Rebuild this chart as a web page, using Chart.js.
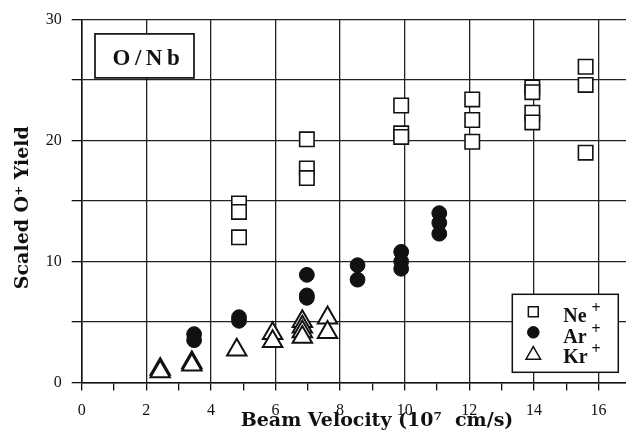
<!DOCTYPE html>
<html>
<head>
<meta charset="utf-8">
<title>O/Nb scaled yield</title>
<script src="https://cdn.jsdelivr.net/npm/chart.js@4.4.0/dist/chart.umd.min.js"></script>
<style>
    html, body { margin: 0; padding: 0; background: #fff; }
    #wrap { width: 626px; height: 437px; }
</style>
</head>
<body>
<div id="wrap"><canvas id="yieldChart" width="626" height="437"></canvas></div>
<script>
// Data (beam velocity in 10^7 cm/s, scaled O+ yield)
const neVelocity = [4.87, 4.87, 4.87, 6.97, 6.97, 6.97, 9.89, 9.89, 9.89, 12.09, 12.09, 12.09, 13.95, 13.95, 13.95, 13.95, 15.6, 15.6, 15.6];
const neYield    = [14.8, 14.1, 12.0, 20.1, 17.7, 16.9, 22.9, 20.6, 20.3, 23.4, 21.7, 19.9, 24.4, 24.0, 22.3, 21.5, 26.1, 24.6, 19.0];

const arVelocity = [3.48, 3.48, 4.87, 4.87, 6.97, 6.97, 6.97, 8.54, 8.54, 9.89, 9.89, 9.89, 11.07, 11.07, 11.07];
const arYield    = [4.0, 3.5, 5.4, 5.1, 8.9, 7.2, 7.0, 9.7, 8.5, 10.8, 10.0, 9.4, 14.0, 13.2, 12.3];

const krVelocity = [2.43, 2.43, 3.41, 3.41, 4.80, 5.91, 5.91, 6.83, 6.83, 6.83, 6.83, 7.61, 7.61];
const krYield    = [1.1, 0.9, 1.65, 1.45, 2.7, 4.05, 3.4, 5.05, 4.6, 4.2, 3.75, 5.35, 4.15];

const seriesNames = ['Ne', 'Ar', 'Kr'];
const xTickLabels = [0, 2, 4, 6, 8, 10, 12, 14, 16];
const yTickLabels = [0, 10, 20, 30];

const ink = '#111';
const gridInk = '#222';
const serif = "'Liberation Serif', 'Times New Roman', serif";
const wideSerif = "'DejaVu Serif', 'Liberation Serif', serif";

function toPoints(xs, ys) {
    return xs.map((x, i) => ({ x: x, y: ys[i] }));
}

// Label box + legend drawn on top of the grid
const annotations = {
    id: 'annotations',
    afterDraw(chart) {
        const ctx = chart.ctx;
        const area = chart.chartArea;
        ctx.save();

        // "O/Nb" box, upper left
        const bx = area.left + 13.3, by = area.top + 14.3;
        ctx.fillStyle = '#fff';
        ctx.fillRect(bx, by, 99, 44);
        ctx.strokeStyle = ink;
        ctx.lineWidth = 1.7;
        ctx.strokeRect(bx, by, 99, 44);
        ctx.fillStyle = ink;
        ctx.font = 'bold 23px ' + serif;
        ctx.textBaseline = 'alphabetic';
        ctx.textAlign = 'left';
        if ('letterSpacing' in ctx) ctx.letterSpacing = '4.5px';
        ctx.fillText('O/Nb', bx + 17.5, by + 30.7);
        if ('letterSpacing' in ctx) ctx.letterSpacing = '0px';

        // legend, lower right
        const lx = 512.3, ly = 294.3, lw = 106, lh = 78;
        ctx.fillStyle = '#fff';
        ctx.fillRect(lx, ly, lw, lh);
        ctx.strokeStyle = ink;
        ctx.lineWidth = 1.5;
        ctx.strokeRect(lx, ly, lw, lh);

        const markerY = [311.7, 332.3, 355.0];
        const textY = [322.3, 343.3, 362.7];
        const markerR = [7, 5.8, 8.4];
        chart.data.datasets.forEach((ds, i) => {
            ctx.fillStyle = ds.backgroundColor;
            ctx.strokeStyle = ds.borderColor;
            ctx.lineWidth = i === 1 ? 1 : 1.5;
            Chart.helpers.drawPoint(ctx, {
                pointStyle: ds.pointStyle,
                rotation: 0,
                radius: markerR[i],
                borderWidth: ctx.lineWidth
            }, 533.3, markerY[i]);

            ctx.fillStyle = ink;
            ctx.font = 'bold 20px ' + serif;
            ctx.fillText(seriesNames[i], 563.3, textY[i]);
            ctx.font = 'bold 16px ' + serif;
            ctx.fillText('+', 591.5, textY[i] - 9);
        });

        ctx.restore();
    }
};

const ctx = document.getElementById('yieldChart').getContext('2d');

new Chart(ctx, {
    type: 'scatter',
    data: {
        datasets: [
            {
                label: 'Ne+',
                data: toPoints(neVelocity, neYield),
                pointStyle: 'rect',
                pointRadius: 10.2,
                pointBorderWidth: 1.6,
                backgroundColor: '#fff',
                borderColor: ink
            },
            {
                label: 'Ar+',
                data: toPoints(arVelocity, arYield),
                pointStyle: 'circle',
                pointRadius: 7.4,
                pointBorderWidth: 1,
                backgroundColor: ink,
                borderColor: ink
            },
            {
                label: 'Kr+',
                data: toPoints(krVelocity, krYield),
                pointStyle: 'triangle',
                pointRadius: 11.2,
                pointBorderWidth: 2,
                backgroundColor: '#fff',
                borderColor: ink
            }
        ]
    },
    options: {
        responsive: false,
        devicePixelRatio: 1,
        animation: false,
        layout: {
            autoPadding: false,
            padding: { top: 19, right: 0, bottom: 0, left: 0 }
        },
        plugins: {
            legend: { display: false },
            tooltip: { enabled: false }
        },
        scales: {
            x: {
                type: 'linear',
                position: 'bottom',
                min: 0,
                max: 16.85,
                afterFit: scale => { scale.height = 54.5; },
                border: { display: true, color: ink, width: 1.5 },
                grid: {
                    color: c => (c.tick && c.tick.value % 2 === 0) ? gridInk : 'rgba(0,0,0,0)',
                    lineWidth: 1.3,
                    tickColor: ink,
                    tickLength: 8
                },
                ticks: {
                    stepSize: 1,
                    includeBounds: false,
                    autoSkip: false,
                    maxRotation: 0,
                    padding: 11,
                    color: ink,
                    font: { family: serif, size: 16 },
                    callback: v => xTickLabels.includes(v) ? String(v) : ''
                },
                title: {
                    display: true,
                    text: '       Beam Velocity (10\u2077  cm/s)',
                    color: ink,
                    font: { family: wideSerif, size: 19, weight: 'bold' },
                    padding: { top: 0, bottom: 5 }
                }
            },
            y: {
                type: 'linear',
                min: 0,
                max: 30,
                afterFit: scale => { scale.width = 81.7; },
                border: { display: true, color: ink, width: 1.5 },
                grid: {
                    color: gridInk,
                    lineWidth: 1.3,
                    tickColor: ink,
                    tickLength: 10
                },
                ticks: {
                    stepSize: 5,
                    includeBounds: false,
                    padding: 10,
                    color: ink,
                    font: { family: serif, size: 16 },
                    callback: v => yTickLabels.includes(v) ? String(v) : ''
                },
                title: {
                    display: true,
                    text: 'Scaled O\u207A Yield  ',
                    color: ink,
                    font: { family: wideSerif, size: 19, weight: 'bold' },
                    padding: { top: 12, bottom: 0 }
                }
            }
        }
    },
    plugins: [annotations]
});
</script>
</body>
</html>
